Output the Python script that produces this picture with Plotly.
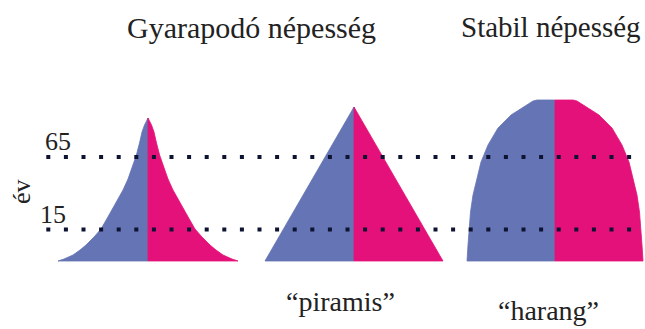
import plotly.graph_objects as go

# outline of each population shape: level (screen units, down = younger) and half-width
gyarapodo_centre = 148
gyarapodo_level = [261, 259, 255, 250, 245, 237, 229, 215, 202, 190, 179,
                   167, 155, 143, 132, 125, 118]
gyarapodo_half = [90, 84, 75, 68, 62, 54, 47, 39, 32, 25, 20,
                  15.5, 11.6, 8.5, 6, 3.5, 0]

piramis_centre = 354
piramis_level = [261, 107]
piramis_half = [89, 0]

harang_centre = 555
harang_level = [261, 245, 230, 212, 195, 175, 162, 145, 128, 115, 105, 101, 100]
harang_half = [88, 87, 86, 84.5, 82, 77, 74, 67, 57, 44, 29, 22, 18]

# age marks (65 and 15 years) drawn as dotted lines
age_labels = ["65", "15"]
age_level = [157, 229.5]
line_start, line_end = 46.3, 632

titles = ["Gyarapodó népesség", "Stabil népesség"]
captions = ["“piramis”", "“harang”"]

ferfi = "#6474b4"
no = "#e5117a"
serif = "Liberation Serif, Times New Roman, serif"

fig = go.Figure()


def add_shape(centre, level, half):
    for sign, colour in ((-1, ferfi), (1, no)):
        xs = [centre] + [centre + sign * h for h in half] + [centre, centre]
        ys = [level[0]] + level + [level[-1], level[0]]
        fig.add_trace(go.Scatter(x=xs, y=ys, mode="lines", fill="toself",
                                 fillcolor=colour,
                                 line=dict(width=0.8, color=colour),
                                 hoverinfo="skip"))


add_shape(gyarapodo_centre, gyarapodo_level, gyarapodo_half)
add_shape(piramis_centre, piramis_level, piramis_half)
add_shape(harang_centre, harang_level, harang_half)

for lvl in age_level:
    fig.add_trace(go.Scatter(x=[line_start, line_end], y=[lvl, lvl], mode="lines",
                             line=dict(color="#0d1330", width=4, dash="4px,13.6px"),
                             hoverinfo="skip"))

ann = [
    dict(x=251, y=27, text=titles[0], font=dict(size=30)),
    dict(x=551, y=27, text=titles[1], font=dict(size=29)),
    dict(x=340, y=301, text=captions[0], font=dict(size=28)),
    dict(x=548, y=310, text=captions[1], font=dict(size=28)),
    dict(x=58, y=141.5, text=age_labels[0], font=dict(size=26)),
    dict(x=52.5, y=214, text=age_labels[1], font=dict(size=26)),
    dict(x=21, y=192, text="év", textangle=-90, font=dict(size=26)),
]
for a in ann:
    a["font"].update(family=serif, color="#222222")
    fig.add_annotation(xref="x", yref="y", showarrow=False,
                       xanchor="center", yanchor="middle", **a)

fig.update_layout(
    width=645, height=329, autosize=False,
    margin=dict(l=0, r=0, t=0, b=0),
    paper_bgcolor="white", plot_bgcolor="white",
    showlegend=False,
    xaxis=dict(range=[0, 645], visible=False, fixedrange=True),
    yaxis=dict(range=[329, 0], visible=False, fixedrange=True),
)

# drop the default page margin so the figure sits at the window's corner
fig.write_html("out.html",
               config={"displayModeBar": False},
               post_script="document.body.style.margin='0';"
                           "document.body.style.overflow='hidden';")
